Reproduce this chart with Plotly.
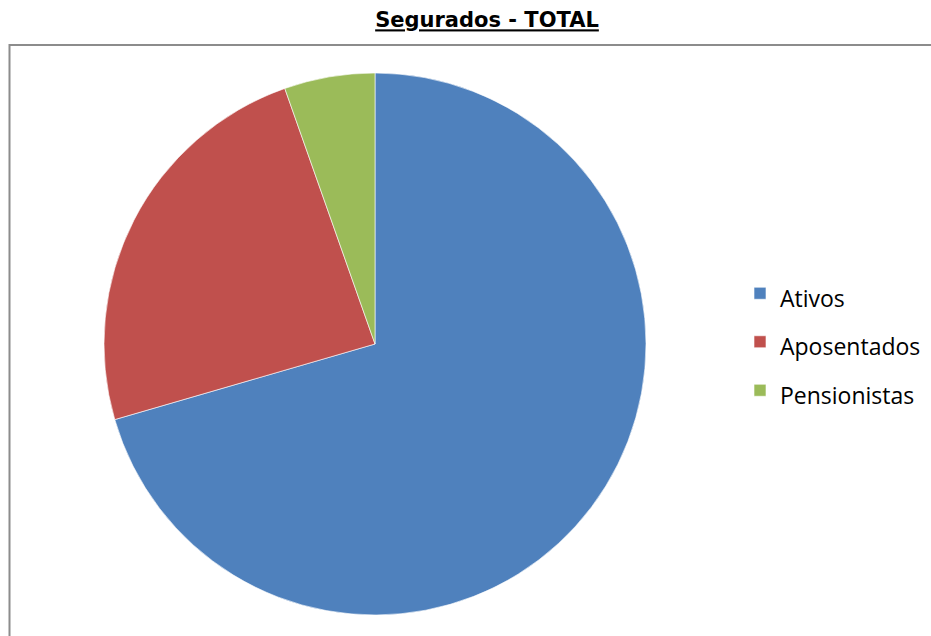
import plotly.graph_objects as go

categories = ["Ativos", "Aposentados", "Pensionistas"]
values = [70.5, 24.1, 5.4]
colors = ["#4F81BD", "#C0504D", "#9BBB59"]

W, H = 931, 636
cx, cy, r = 375, 344, 271

display_labels = ['<span style="font-size:23px">%s</span>' % c for c in categories]

fig = go.Figure(go.Pie(
    labels=display_labels,
    values=values,
    sort=False,
    direction="clockwise",
    rotation=0,
    textinfo="none",
    hovertext=categories,
    hoverinfo="text+value",
    marker=dict(colors=colors, line=dict(color="rgba(255,255,255,0.6)", width=1)),
    domain=dict(x=[(cx - r) / W, (cx + r) / W], y=[1 - (cy + r) / H, 1 - (cy - r) / H]),
))

fig.update_layout(
    width=W, height=H,
    margin=dict(l=0, r=0, t=0, b=0),
    paper_bgcolor="white",
    plot_bgcolor="white",
    title=dict(
        text="<b><u>Segurados - TOTAL</u></b>",
        font=dict(family="DejaVu Sans", size=21, color="black"),
        x=487 / W, xanchor="center",
        y=1 - 20 / H, yanchor="middle",
    ),
    showlegend=True,
    legend=dict(
        x=740 / W, xanchor="left",
        y=1 - 342 / H, yanchor="middle",
        font=dict(family="Open Sans", size=35, color="black"),
        itemwidth=30,
        bgcolor="rgba(0,0,0,0)",
    ),
    shapes=[dict(
        type="rect", xref="paper", yref="paper",
        x0=9.5 / W, x1=1.05, y0=-0.05, y1=1 - 45 / H,
        line=dict(color="#8C8C8C", width=2),
        fillcolor="rgba(0,0,0,0)", layer="below",
    )],
)

fig.write_html(
    "out.html",
    config={"displayModeBar": False},
    post_script="document.body.style.margin='0';document.body.style.overflow='hidden';",
)
